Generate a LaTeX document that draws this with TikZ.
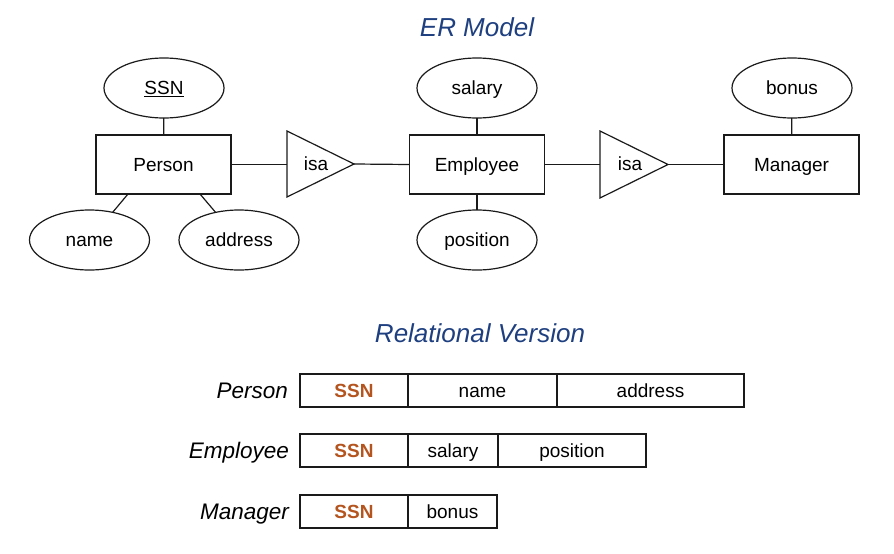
\documentclass[tikz,border=0pt]{standalone}
\usepackage{fontspec}
\setmainfont{Liberation Sans}
\usetikzlibrary{shapes.geometric}
\definecolor{titleblue}{HTML}{1E3F80}
\definecolor{keybrown}{HTML}{B4541E}
\definecolor{ink}{HTML}{1A1A1A}
\begin{document}
\begin{tikzpicture}[x=1pt,y=-1pt,
  every node/.style={inner sep=0pt, outer sep=0pt},
  lbl/.style={font=\fontsize{19}{22}\selectfont, text height=13.6pt, text depth=0pt},
  ent/.style={lbl, draw=ink, line width=1.2pt, rectangle, minimum width=135pt, minimum height=59pt},
  attr/.style={lbl, draw=ink, line width=1.2pt, ellipse, minimum width=120pt, minimum height=60pt},
  conn/.style={draw=ink, line width=1.2pt},
  title/.style={font=\fontsize{26}{30}\selectfont\itshape, text=titleblue, anchor=base},
  cell/.style={lbl, draw=ink, line width=1.2pt, rectangle, minimum height=33pt},
  key/.style={cell, font=\fontsize{19}{22}\selectfont\bfseries, text=keybrown},
  rowlbl/.style={font=\fontsize{22.5}{26}\selectfont\itshape, anchor=base east}
]
\useasboundingbox (0,0) rectangle (894,554);

% ---------- ER Model ----------
\node[title] (ertitle) at (477,36) {ER Model};

\node[ent] (person) at (163.5,164.5) {Person};
\node[ent] (employee) at (477,164.5) {Employee};
\node[ent] (manager) at (791.5,164.5) {Manager};

\node[attr] (ssn) at (164,88) {\underline{SSN}};
\node[attr] (name) at (89.5,240) {name};
\node[attr] (address) at (239,240) {address};
\node[attr] (salary) at (477,88) {salary};
\node[attr] (position) at (477,240) {position};
\node[attr] (bonus) at (792,88) {bonus};

% isa triangles
\draw[conn, line join=miter] (287,131) -- (354,164) -- (287,197) -- cycle;
\coordinate (isa1in) at (287,164.5);
\coordinate (isa1out) at (354,164);
\node[lbl] (isa1) at (316,164) {isa};

\draw[conn, line join=miter] (600,131) -- (668,164.5) -- (600,198) -- cycle;
\coordinate (isa2in) at (600,164.5);
\coordinate (isa2out) at (668,164.5);
\node[lbl] (isa2) at (630,164) {isa};

% connectors
\draw[conn] (ssn) -- (person);
\draw[conn] ([xshift=-35.5pt]person.south) -- (name);
\draw[conn] ([xshift=36.5pt]person.south) -- (address);
\draw[conn] (person.east) -- (isa1in);
\draw[conn] (isa1out) -- (employee.west);
\draw[conn] (salary) -- (employee);
\draw[conn] (position) -- (employee);
\draw[conn] (employee.east) -- (isa2in);
\draw[conn] (isa2out) -- (manager.west);
\draw[conn] (bonus) -- (manager);

% ---------- Relational Version ----------
\node[title] (reltitle) at (480,342) {Relational Version};

% Person row
\node[rowlbl] (lperson) at (288,398.5) {Person};
\node[key, minimum width=108pt] (pssn) at (354,390.5) {SSN};
\node[cell, minimum width=149pt] (pname) at (482.5,390.5) {name};
\node[cell, minimum width=187pt] (paddr) at (650.5,390.5) {address};

% Employee row
\node[rowlbl] (lemployee) at (289,458.5) {Employee};
\node[key, minimum width=108pt] (essn) at (354,450.5) {SSN};
\node[cell, minimum width=90pt] (esal) at (453,450.5) {salary};
\node[cell, minimum width=148pt] (epos) at (572,450.5) {position};

% Manager row
\node[rowlbl] (lmanager) at (289,519.5) {Manager};
\node[key, minimum width=108pt] (mssn) at (354,511.5) {SSN};
\node[cell, minimum width=89pt] (mbonus) at (452.5,511.5) {bonus};
\end{tikzpicture}
\end{document}
